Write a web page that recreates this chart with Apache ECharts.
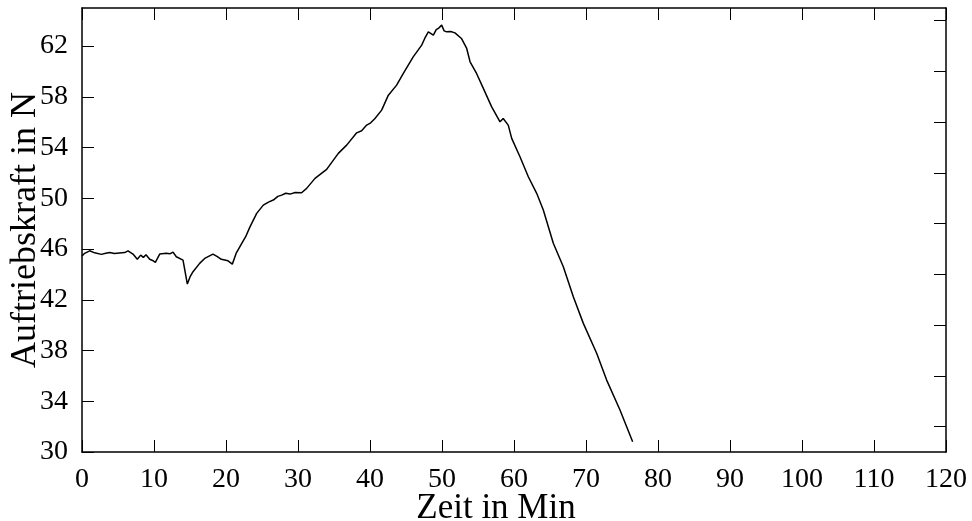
<!DOCTYPE html>
<html>
<head>
<meta charset="utf-8">
<script src="https://cdn.jsdelivr.net/npm/echarts@6/dist/echarts.min.js"></script>
<style>
  html, body { margin: 0; padding: 0; background: #fff; }
  #main { width: 972px; height: 521px; }
</style>
</head>
<body>
<div id="main"></div>
<script>
const times = [0, 0.37, 1.06, 1.76, 2.69, 3.3, 3.84, 4.5, 5.2, 5.93, 6.39, 7.08, 7.68, 8.15, 8.52, 8.89, 9.4, 9.8,
  10.19, 10.79, 11.71, 12.2, 12.64, 13.1, 14.03, 14.63, 15.0, 15.42, 16.34, 17.04, 18.19, 18.8, 19.35, 20.28,
  20.88, 21.44, 22.13, 22.73, 23.33, 24.26, 25.18, 25.9, 26.57, 27.2, 27.73, 28.3, 28.9, 29.6, 30.5, 31.2,
  32.36, 33.98, 35.6, 36.76, 38.15, 38.84, 39.54, 40.1, 40.69, 41.62, 42.55, 43.7, 44.63, 46.0, 47.18, 47.6,
  48.1, 48.8, 49.2, 49.49, 49.95, 50.3, 50.65, 51.2, 51.8, 52.7, 53.43, 53.9, 54.8, 55.74, 56.9, 58.06, 58.5,
  59.2, 59.68, 60.83, 61.99, 63.15, 64.07, 65.46, 66.85, 68.24, 69.63, 71.48, 72.87, 74.72, 76.48];
const force = [45.45, 45.66, 45.86, 45.70, 45.58, 45.66, 45.72, 45.64, 45.68, 45.72, 45.86, 45.60, 45.19, 45.52, 45.34, 45.55, 45.19, 45.10,
  44.95, 45.60, 45.66, 45.62, 45.76, 45.39, 45.13, 43.24, 43.8, 44.21, 44.87, 45.26, 45.60, 45.4, 45.19, 45.07,
  44.81, 45.70, 46.39, 46.97, 47.75, 48.81, 49.46, 49.7, 49.86, 50.15, 50.25, 50.4, 50.33, 50.45, 50.44, 50.78,
  51.57, 52.28, 53.54, 54.19, 55.16, 55.32, 55.77, 55.95, 56.29, 56.95, 58.13, 58.92, 59.84, 61.15, 62.07, 62.6,
  63.12, 62.86, 63.3, 63.39, 63.65, 63.2, 63.12, 63.15, 63.04, 62.6, 61.81, 60.76, 59.84, 58.66, 57.21, 56.03, 56.29,
  55.77, 54.72, 53.27, 51.70, 50.39, 49.07, 46.45, 44.60, 42.24, 40.14, 37.78, 35.67, 33.31, 30.81];

const xTicks = [0, 10, 20, 30, 40, 50, 60, 70, 80, 90, 100, 110, 120];
const yTicksLeft = [30, 34, 38, 42, 46, 50, 54, 58, 62];
const yTicksRight = [32, 36, 40, 44, 48, 52, 56, 60, 64];

const font = "'Liberation Serif', serif";
const chart = echarts.init(document.getElementById('main'));

const axisLine = { show: true, onZero: false, lineStyle: { color: '#000', width: 1.5 } };
const tick = { inside: true, length: 12, lineStyle: { color: '#000', width: 1 } };

chart.setOption({
  animation: false,
  grid: { left: 82, right: 26, top: 8, bottom: 69, outerBoundsMode: 'none' },
  xAxis: [{
    type: 'value', min: 0, max: 120, position: 'bottom',
    name: 'Zeit in Min', nameLocation: 'middle', nameGap: 39, nameMoveOverlap: false,
    nameTextStyle: { fontFamily: font, fontSize: 35, color: '#000', padding: [0, 36, 0, 0] },
    axisLine: axisLine,
    axisTick: Object.assign({ customValues: xTicks }, tick),
    axisLabel: { customValues: xTicks, margin: 14, fontFamily: font, fontSize: 28, color: '#000' },
    splitLine: { show: false }
  }, {
    type: 'value', min: 0, max: 120, position: 'top',
    axisLine: axisLine,
    axisTick: Object.assign({ customValues: xTicks }, tick),
    axisLabel: { show: false },
    splitLine: { show: false }
  }],
  yAxis: [{
    type: 'value', min: 30, max: 65, position: 'left',
    name: 'Auftriebskraft in N', nameLocation: 'middle', nameGap: 38, nameMoveOverlap: false,
    nameTextStyle: { fontFamily: font, fontSize: 36, color: '#000' },
    axisLine: axisLine,
    axisTick: Object.assign({ customValues: yTicksLeft }, tick),
    axisLabel: { customValues: yTicksLeft, margin: 14, fontFamily: font, fontSize: 28, color: '#000' },
    splitLine: { show: false }
  }, {
    type: 'value', min: 30, max: 65, position: 'right',
    axisLine: axisLine,
    axisTick: Object.assign({ customValues: yTicksRight }, tick),
    axisLabel: { show: false },
    splitLine: { show: false }
  }],
  series: [{
    type: 'line',
    data: times.map((t, i) => [t, force[i]]),
    showSymbol: false,
    lineStyle: { color: '#000', width: 1.5 }
  }]
});
</script>
</body>
</html>
